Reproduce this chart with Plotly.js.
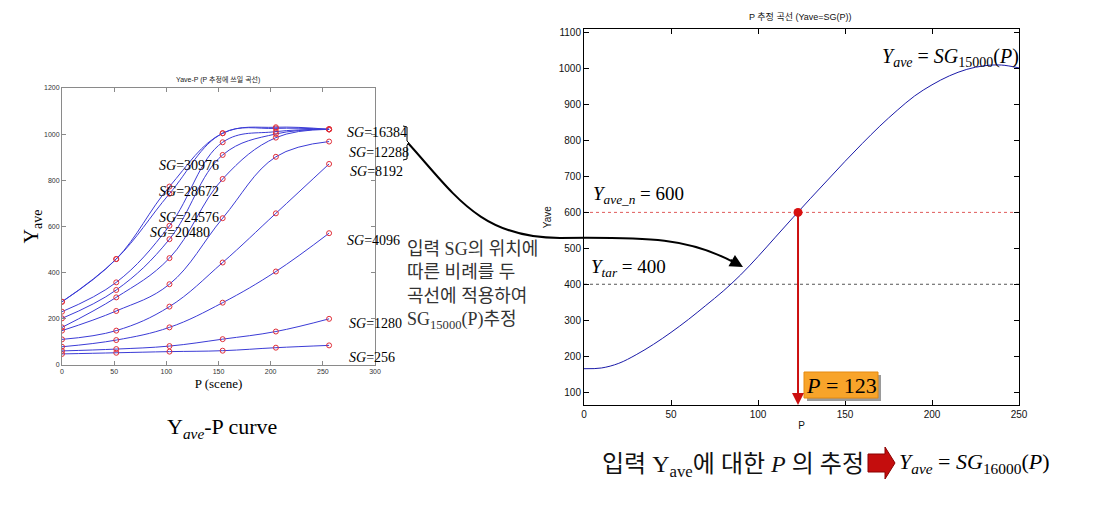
<!DOCTYPE html>
<html>
<head>
<meta charset="utf-8">
<script src="https://cdn.plot.ly/plotly-3.0.1.min.js"></script>
<style>html,body{margin:0;padding:0;background:#fff;}#chart{width:1101px;height:520px;}</style>
</head>
<body>
<div id="chart"></div>
<script>
// ---------- data: left chart (Yave vs P for each SG) ----------
const pScene = [0, 52, 103, 154, 205, 256];
const sgNames = ["256", "1280", "4096", "8192", "12288", "16384", "20480", "24576", "28672", "30976"];
const sg256   = [48, 53, 58, 62, 75, 85];
const sg1280  = [61, 69, 82, 112, 145, 200];
const sg4096  = [79, 108, 163, 270, 405, 571];
const sg8192  = [111, 149, 253, 444, 657, 871];
const sg12288 = [149, 234, 350, 636, 902, 968];
const sg16384 = [163, 293, 463, 806, 985, 1021];
const sg20480 = [202, 325, 545, 910, 1001, 1021];
const sg24576 = [231, 358, 603, 965, 1011, 1021];
const sg28672 = [274, 459, 742, 1004, 1025, 1021];
const sg30976 = [274, 459, 773, 1004, 1030, 1021];
const sgSeries = [sg256, sg1280, sg4096, sg8192, sg12288, sg16384, sg20480, sg24576, sg28672, sg30976];

// ---------- data: right chart (estimated SG15000 curve) ----------
const pEst = [0, 10, 20, 30, 40, 50, 60, 70, 80, 90, 100, 110, 120, 130, 140, 150, 160, 170, 180, 190, 200, 210, 220, 230, 240, 250];
const sg15000 = [165, 167, 180, 204, 233, 266, 302, 341, 381, 426, 477, 531, 585, 638, 690, 742, 792, 840, 884, 924, 955, 980, 998, 1008, 1010, 1002];
const yTarget = 400;
const yAveN = 600;
const pResult = [123];
const yResult = [600];

const W = 1101, H = 520;
const fx = x => x / W;
const fy = y => 1 - y / H;

const serif = "'Times New Roman', 'Liberation Serif', 'Noto Sans CJK KR', serif";
const sans = "Arial, 'Liberation Sans', 'Noto Sans CJK KR', sans-serif";
const kor = "'Liberation Serif', 'Noto Sans CJK KR', serif";

const traces = [];
sgSeries.forEach((ys, i) => {
  traces.push({
    x: pScene, y: ys, xaxis: 'x', yaxis: 'y', type: 'scatter', mode: 'lines+markers',
    name: 'SG=' + sgNames[i],
    line: {color: '#3b3bd6', width: 1, shape: 'spline', smoothing: 1.1},
    marker: {symbol: 'circle-open', color: '#e0303a', size: 5, line: {width: 1}},
    hoverinfo: 'x+y+name'
  });
});
traces.push({
  x: pEst, y: sg15000, xaxis: 'x2', yaxis: 'y2', type: 'scatter', mode: 'lines',
  name: 'SG15000', line: {color: '#1a1aa8', width: 1, shape: 'spline', smoothing: 1}
});
traces.push({
  x: pResult, y: yResult, xaxis: 'x2', yaxis: 'y2', type: 'scatter', mode: 'markers',
  name: 'P', marker: {color: '#d81010', size: 9}
});

const axCommonL = {showline: true, linecolor: '#8a8a8a', linewidth: 1, mirror: 'ticks', ticks: 'inside',
  ticklen: 4, tickcolor: '#8a8a8a', showgrid: false, zeroline: false,
  tickfont: {family: sans, size: 7, color: '#333'}};
const axCommonR = {showline: true, linecolor: '#000', linewidth: 1, mirror: 'ticks', ticks: 'inside',
  ticklen: 5, tickcolor: '#000', showgrid: false, zeroline: false,
  tickfont: {family: sans, size: 10, color: '#111'}};

function txt(x, y, text, font, xa, ya, extra) {
  return Object.assign({xref: 'paper', yref: 'paper', x: fx(x), y: fy(y), text: text, showarrow: false,
    xanchor: xa || 'center', yanchor: ya || 'middle', font: font}, extra || {});
}

const layout = {
  width: W, height: H, margin: {l: 0, r: 0, t: 0, b: 0},
  paper_bgcolor: '#fff', plot_bgcolor: '#fff', showlegend: false,
  xaxis: Object.assign({}, axCommonL, {domain: [fx(62), fx(375)], range: [0, 300], tickvals: [0, 50, 100, 150, 200, 250, 300],
    anchor: 'y', title: {text: 'P (scene)', font: {family: serif, size: 13, color: '#000'}, standoff: 4}}),
  yaxis: Object.assign({}, axCommonL, {domain: [fy(365), fy(88)], range: [0, 1200], tickvals: [0, 200, 400, 600, 800, 1000, 1200],
    anchor: 'x', title: {text: 'Y<sub>ave</sub>', font: {family: serif, size: 20, color: '#000'}, standoff: 0}}),
  xaxis2: Object.assign({}, axCommonR, {domain: [fx(584), fx(1019)], range: [0, 250], tickvals: [0, 50, 100, 150, 200, 250],
    anchor: 'y2', title: {text: 'P', font: {family: sans, size: 10, color: '#111'}, standoff: 2}}),
  yaxis2: Object.assign({}, axCommonR, {domain: [fy(405), fy(29.3)], range: [64, 1109.5],
    tickvals: [100, 200, 300, 400, 500, 600, 700, 800, 900, 1000, 1100],
    anchor: 'x2', title: {text: 'Yave', font: {family: sans, size: 10, color: '#111'}, standoff: 5}}),
  shapes: [
    {type: 'line', xref: 'x2', yref: 'y2', x0: 0, x1: 250, y0: yAveN, y1: yAveN, line: {color: '#e05a5a', width: 1, dash: 'dot'}, layer: 'below'},
    {type: 'line', xref: 'x2', yref: 'y2', x0: 0, x1: 250, y0: yTarget, y1: yTarget, line: {color: '#555', width: 1, dash: 'dot'}, layer: 'below'},
    // bracket
    {type: 'path', xref: 'paper', yref: 'paper',
      path: `M ${fx(403)} ${fy(126)} L ${fx(407)} ${fy(127)} L ${fx(407)} ${fy(141)} L ${fx(409)} ${fy(143)} L ${fx(407)} ${fy(145)} L ${fx(407)} ${fy(159)} L ${fx(403)} ${fy(160)}`,
      line: {color: '#000', width: 1}},
    // curved arrow
    {type: 'path', xref: 'paper', yref: 'paper',
      path: `M ${fx(408)} ${fy(143)} C ${fx(455)} ${fy(195)}, ${fx(480)} ${fy(238)}, ${fx(560)} ${fy(238)} C ${fx(650)} ${fy(237)}, ${fx(690)} ${fy(238)}, ${fx(735)} ${fy(263)}`,
      line: {color: '#000', width: 2}},
    // P=123 box shadow and box
    {type: 'rect', xref: 'paper', yref: 'paper', x0: fx(807), x1: fx(881), y0: fy(401), y1: fy(375), fillcolor: '#9a9a9a', line: {width: 0}},
    {type: 'rect', xref: 'paper', yref: 'paper', x0: fx(804), x1: fx(878), y0: fy(398), y1: fy(372), fillcolor: '#f8a42a', line: {color: '#e58a10', width: 1}},
    // red block arrow icon
    {type: 'path', xref: 'paper', yref: 'paper',
      path: `M ${fx(868)} ${fy(454)} L ${fx(885)} ${fy(454)} L ${fx(885)} ${fy(447)} L ${fx(895)} ${fy(463)} L ${fx(885)} ${fy(479)} L ${fx(885)} ${fy(472)} L ${fx(868)} ${fy(472)} Z`,
      fillcolor: '#c40d0d', line: {color: '#8a0000', width: 1}}
  ],
  annotations: [
    txt(218, 79, 'Yave-P (P 추정에 쓰일 곡선)', {family: sans, size: 7, color: '#222'}),
    txt(800, 17, 'P 추정 곡선 (Yave=SG(P))', {family: sans, size: 9, color: '#111'}),
    // SG labels
    ...[["16384", 345, 132], ["12288", 347, 152], ["8192", 348, 172], ["4096", 345, 240], ["1280", 347, 323], ["256", 347, 357],
        ["30976", 157, 165], ["28672", 157, 191], ["24576", 157, 217], ["20480", 148, 233]].map(a =>
      txt(a[1], a[2], '<i>SG</i>=' + a[0], {family: serif, size: 14, color: '#000'}, 'left', 'middle')),
    // middle explanation text
    txt(405, 237, '입력 SG의 위치에<br>따른 비례를 두<br>곡선에 적용하여<br>SG<sub>15000</sub>(P)추정',
      {family: kor, size: 18, color: '#333'}, 'left', 'top', {align: 'left'}),
    // right annotations
    txt(880, 57, '<i>Y<sub>ave</sub></i> = <i>SG</i><sub>15000</sub>(<i>P</i>)', {family: serif, size: 20, color: '#000'}, 'left', 'middle'),
    txt(591, 195, '<i>Y<sub>ave_n</sub></i> = 600', {family: serif, size: 19, color: '#000'}, 'left', 'middle'),
    txt(589, 268, '<i>Y<sub>tar</sub></i> = 400', {family: serif, size: 19, color: '#000'}, 'left', 'middle'),
    txt(841, 385, '<i>P</i> = 123', {family: serif, size: 22, color: '#000'}),
    // red vertical arrow
    {xref: 'x2', yref: 'y2', axref: 'x2', ayref: 'y2', x: pResult[0], y: 64, ax: pResult[0], ay: yResult[0], text: '',
      showarrow: true, arrowhead: 2, arrowsize: 1.2, arrowwidth: 2, arrowcolor: '#cc1010', standoff: 0},
    // curved arrow head
    {xref: 'paper', yref: 'paper', x: fx(743), y: fy(267), ax: -14, ay: -8, text: '', showarrow: true,
      arrowhead: 2, arrowsize: 1.3, arrowwidth: 2, arrowcolor: '#000', standoff: 0},
    // bottom captions
    txt(222, 428, 'Y<sub><i>ave</i></sub>-P curve', {family: serif, size: 22, color: '#000'}),
    txt(866, 466, '입력 Y<sub>ave</sub>에 대한 <i>P</i> 의 추정', {family: kor, size: 24, color: '#111'}, 'right', 'middle'),
    txt(897, 463, '<i>Y<sub>ave</sub></i> = <i>SG</i><sub>16000</sub>(<i>P</i>)', {family: serif, size: 22, color: '#000'}, 'left', 'middle')
  ]
};

Plotly.newPlot('chart', traces, layout, {displayModeBar: false, staticPlot: true});
</script>
</body>
</html>
